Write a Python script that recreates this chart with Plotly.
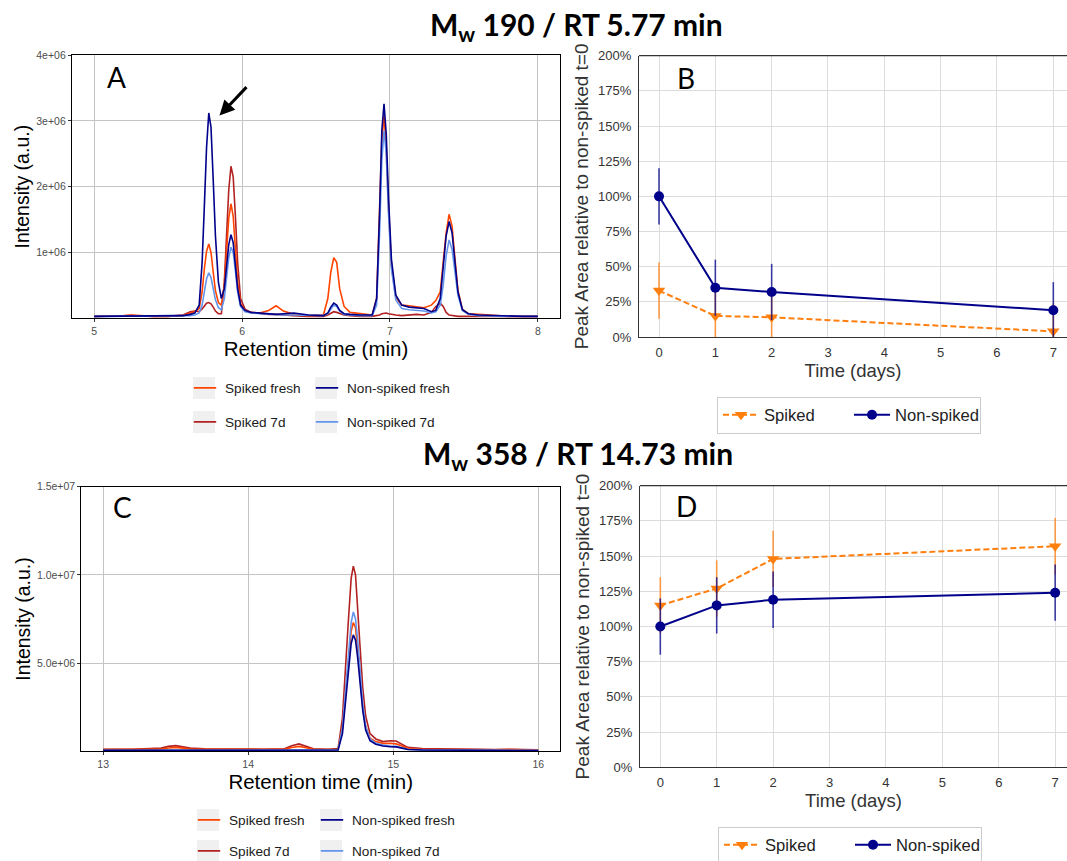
import plotly.graph_objects as go

W, H = 1067, 861

# ---------------- Panel A : chromatogram, Mw 190 (intensity in 1e6) ----------------
rt_a = [5.00, 5.10, 5.20, 5.25, 5.30, 5.40, 5.50, 5.60, 5.65, 5.68, 5.71, 5.73, 5.745, 5.76,
        5.775, 5.79, 5.805, 5.82, 5.84, 5.86, 5.88, 5.895, 5.91, 5.925, 5.94, 5.955, 5.97,
        5.99, 6.02, 6.06, 6.12, 6.18, 6.23, 6.28, 6.35, 6.45, 6.55, 6.58, 6.60, 6.62, 6.64,
        6.66, 6.69, 6.73, 6.80, 6.88, 6.91, 6.93, 6.945, 6.96, 6.975, 6.99, 7.01, 7.04, 7.08,
        7.13, 7.18, 7.23, 7.28, 7.31, 7.34, 7.36, 7.38, 7.40, 7.42, 7.44, 7.46, 7.49, 7.53,
        7.60, 7.70, 7.80, 7.90, 8.00]
a_nonspiked_fresh = [.03, .03, .03, .035, .03, .03, .03, .04, .06, .08, .20, .85, 1.70, 2.60,
                     3.12, 2.90, 2.10, 1.25, .55, .30, .45, .80, 1.12, 1.27, 1.15, .80, .45,
                     .20, .12, .09, .08, .07, .06, .07, .08, .05, .04, .08, .17, .23, .20,
                     .12, .07, .06, .05, .05, .30, 1.60, 2.85, 3.26, 2.80, 1.85, .90, .35, .20,
                     .17, .16, .15, .10, .12, .30, .75, 1.25, 1.47, 1.30, .85, .40, .13, .07,
                     .05, .04, .04, .03, .03]
a_spiked_fresh = [.03, .03, .04, .05, .04, .03, .03, .04, .08, .10, .15, .40, .75, 1.02,
                  1.13, 1.00, .70, .42, .24, .20, .50, 1.05, 1.52, 1.74, 1.55, 1.05, .55,
                  .22, .12, .09, .08, .12, .19, .11, .06, .04, .05, .30, .70, .92, .85,
                  .45, .18, .09, .07, .05, .30, 1.50, 2.70, 3.08, 2.60, 1.70, .80, .32, .20,
                  .19, .18, .16, .20, .27, .40, .80, 1.30, 1.58, 1.40, .90, .42, .14, .07,
                  .06, .04, .03, .03, .03]
a_nonspiked_7d = [.03, .03, .03, .03, .03, .03, .03, .03, .04, .05, .08, .20, .42, .60,
                  .69, .62, .45, .28, .16, .13, .30, .62, .92, 1.08, 1.00, .72, .40,
                  .18, .10, .08, .07, .06, .05, .05, .05, .04, .04, .07, .14, .20, .18,
                  .11, .06, .05, .04, .04, .20, 1.30, 2.40, 2.85, 2.50, 1.60, .75, .28, .15,
                  .13, .12, .11, .08, .10, .20, .50, .95, 1.19, 1.05, .70, .35, .12, .06,
                  .04, .03, .03, .03, .03]
a_spiked_7d = [.03, .03, .035, .045, .035, .03, .03, .05, .10, .11, .10, .14, .19, .23,
               .24, .22, .17, .11, .07, .07, .55, 1.25, 1.95, 2.31, 2.15, 1.55, .85,
               .30, .14, .09, .07, .06, .06, .05, .04, .03, .03, .05, .08, .10, .09,
               .07, .05, .04, .03, .03, .04, .05, .07, .08, .08, .07, .06, .05, .04,
               .05, .06, .05, .09, .18, .23, .18, .09, .05, .04, .04, .03, .03, .03,
               .03, .03, .03, .03, .03]

# ---------------- Panel C : chromatogram, Mw 358 (intensity in 1e6) ----------------
rt_c = [13.0, 13.2, 13.4, 13.45, 13.5, 13.55, 13.6, 13.7, 13.9, 14.1, 14.25, 14.3, 14.35,
        14.4, 14.45, 14.55, 14.62, 14.65, 14.67, 14.69, 14.71, 14.725, 14.74, 14.755, 14.77,
        14.79, 14.81, 14.84, 14.88, 14.93, 14.98, 15.02, 15.06, 15.1, 15.2, 15.35, 15.5,
        15.7, 15.8, 15.9, 16.0]
c_spiked_7d = [.12, .12, .18, .28, .32, .26, .18, .14, .12, .12, .14, .32, .42, .30, .14,
               .12, .15, 1.9, 4.3, 7.3, 9.8, 10.5, 10.0, 8.3, 6.1, 3.6, 2.0, 1.0, .70, .55,
               .60, .58, .40, .22, .15, .13, .12, .10, .12, .09, .08]
c_spiked_fresh = [.10, .10, .13, .19, .22, .18, .13, .11, .10, .10, .11, .22, .28, .20, .11,
                  .10, .12, 1.3, 3.0, 5.0, 6.8, 7.3, 7.0, 5.8, 4.3, 2.5, 1.4, .75, .55, .45,
                  .45, .42, .30, .17, .12, .10, .10, .09, .10, .08, .07]
c_nonspiked_7d = [.06, .06, .06, .07, .08, .07, .06, .06, .06, .06, .06, .08, .10, .08, .06,
                  .06, .08, 1.3, 3.2, 5.4, 7.3, 7.9, 7.5, 6.3, 4.6, 2.7, 1.4, .70, .45, .35,
                  .30, .28, .20, .12, .08, .07, .06, .06, .08, .06, .05]
c_nonspiked_fresh = [.05, .05, .05, .06, .07, .06, .05, .05, .05, .05, .05, .07, .09, .07, .05,
                     .05, .07, 1.0, 2.6, 4.5, 6.1, 6.6, 6.3, 5.3, 3.9, 2.3, 1.2, .60, .40, .30,
                     .26, .25, .18, .10, .07, .06, .05, .05, .07, .05, .04]

# ---------------- Panels B and D : peak area vs time (%) ----------------
days = [0, 1, 2, 7]
day_ticks = [0, 1, 2, 3, 4, 5, 6, 7]
b_spiked = [33, 15, 14, 4]
b_spiked_err = [20, 20, 18, 20]
b_nonspiked = [100, 35, 32, 19]
b_nonspiked_err = [20, 20, 20, 20]
d_spiked = [115, 127, 148, 157]
d_spiked_err = [20, 20, 20, 20]
d_nonspiked = [100, 115, 119, 124]
d_nonspiked_err = [20, 20, 20, 20]
pct_ticks = [0, 25, 50, 75, 100, 125, 150, 175, 200]
pct_labels = ["0%", "25%", "50%", "75%", "100%", "125%", "150%", "175%", "200%"]

chrom_colors = {"Spiked fresh": "#FF4500", "Spiked 7d": "#B22222",
                "Non-spiked fresh": "#00008B", "Non-spiked 7d": "#6495ED"}
ORANGE = "#FF7F0E"
NAVY = "#00008B"
SANS = "Liberation Sans, Arial, sans-serif"
CAL = "Lato, Open Sans, sans-serif"

fig = go.Figure()

chrom = {
    ("x", "y"): (rt_a, {"Spiked 7d": a_spiked_7d, "Spiked fresh": a_spiked_fresh,
                        "Non-spiked 7d": a_nonspiked_7d, "Non-spiked fresh": a_nonspiked_fresh}),
    ("x3", "y3"): (rt_c, {"Spiked 7d": c_spiked_7d, "Spiked fresh": c_spiked_fresh,
                          "Non-spiked 7d": c_nonspiked_7d, "Non-spiked fresh": c_nonspiked_fresh}),
}
for (xa, ya), (rt, tr) in chrom.items():
    for name in ["Spiked 7d", "Spiked fresh", "Non-spiked 7d", "Non-spiked fresh"]:
        fig.add_trace(go.Scatter(x=rt, y=tr[name], mode="lines", name=name,
                                 line=dict(color=chrom_colors[name], width=1.6),
                                 xaxis=xa, yaxis=ya, showlegend=False))


def px_x(p):
    return p / W


def px_y(p):
    return 1 - p / H


# one legend per key (ggplot-like 2x2 key grid); (name, legend id, axes, key centre x, key centre y)
legend_keys = [
    ("Spiked fresh", "legend", ("x", "y"), 204, 388),
    ("Non-spiked fresh", "legend2", ("x", "y"), 326, 388),
    ("Spiked 7d", "legend3", ("x", "y"), 204, 422),
    ("Non-spiked 7d", "legend4", ("x", "y"), 326, 422),
    ("Spiked fresh", "legend5", ("x3", "y3"), 208, 820),
    ("Non-spiked fresh", "legend6", ("x3", "y3"), 331, 820),
    ("Spiked 7d", "legend7", ("x3", "y3"), 208, 851),
    ("Non-spiked 7d", "legend8", ("x3", "y3"), 331, 851),
]
layout_legends = {}
for name, leg, (xa, ya), kx, ky in legend_keys:
    fig.add_trace(go.Scatter(x=[None], y=[None], mode="markers", name=name,
                             marker=dict(symbol="line-ew-open", size=16,
                                         color=chrom_colors[name],
                                         line=dict(width=1.6, color=chrom_colors[name])),
                             xaxis=xa, yaxis=ya, legend=leg, showlegend=True))
    layout_legends[leg] = dict(orientation="h", xanchor="left", yanchor="middle",
                               bgcolor="rgba(0,0,0,0)", x=px_x(kx - 19), y=px_y(ky),
                               font=dict(family=SANS, size=13.6, color="#1a1a1a"))
    fig.add_shape(type="rect", xref="paper", yref="paper", x0=px_x(kx - 11), x1=px_x(kx + 11),
                  y0=px_y(ky + 11), y1=px_y(ky - 11), fillcolor="#f0f0f0", line_width=0,
                  layer="below")

# time-course traces
for (xa, ya, leg), (sp, spe, ns, nse) in zip(
        [("x2", "y2", "legend9"), ("x4", "y4", "legend10")],
        [(b_spiked, b_spiked_err, b_nonspiked, b_nonspiked_err),
         (d_spiked, d_spiked_err, d_nonspiked, d_nonspiked_err)]):
    fig.add_trace(go.Scatter(x=days, y=sp, mode="lines+markers", name="Spiked",
                             line=dict(color=ORANGE, width=2, dash="6px,3px"),
                             marker=dict(symbol="triangle-down", size=11, color=ORANGE),
                             error_y=dict(type="data", array=spe, visible=True, width=0,
                                          thickness=1.6, color="rgba(255,127,14,0.75)"),
                             xaxis=xa, yaxis=ya, legend=leg))
    fig.add_trace(go.Scatter(x=days, y=ns, mode="lines+markers", name="Non-spiked",
                             line=dict(color=NAVY, width=2),
                             marker=dict(symbol="circle", size=10, color=NAVY),
                             error_y=dict(type="data", array=nse, visible=True, width=0,
                                          thickness=1.6, color="rgba(0,0,139,0.75)"),
                             xaxis=xa, yaxis=ya, legend=leg))

chrom_axis = dict(showline=True, mirror=True, linecolor="black", linewidth=1.3,
                  showgrid=True, gridcolor="#c4c4c4", gridwidth=0.9, zeroline=False,
                  ticks="outside", ticklen=3, tickcolor="#333333", tickwidth=1,
                  tickfont=dict(family=SANS, size=10.5, color="#4d4d4d"), automargin=False)
time_axis = dict(showline=True, linecolor="#333333", linewidth=1.3, showgrid=True,
                 gridcolor="#dcdcdc", gridwidth=1.4, zeroline=False, ticks="",
                 tickfont=dict(family=SANS, size=13, color="#333333"), automargin=False)

layout = dict(
    width=W, height=H, autosize=False, margin=dict(l=0, r=0, t=0, b=0, autoexpand=False),
    paper_bgcolor="white", plot_bgcolor="white", showlegend=True,
    font=dict(family=SANS, color="black"),
    xaxis=dict(chrom_axis, domain=[px_x(72), px_x(560)], range=[4.85, 8.15],
               tickvals=[5, 6, 7, 8], anchor="y",
               title=dict(text="Retention time (min)", font=dict(family=SANS, size=20.5), standoff=1)),
    yaxis=dict(chrom_axis, domain=[px_y(318.3), px_y(55)], range=[0, 4], anchor="x",
               tickvals=[1, 2, 3, 4], ticktext=["1e+06", "2e+06", "3e+06", "4e+06"],
               title=dict(text="Intensity (a.u.)", font=dict(family=SANS, size=19.5), standoff=1)),
    xaxis3=dict(chrom_axis, domain=[px_x(81.4), px_x(560)], range=[12.85, 16.15],
                tickvals=[13, 14, 15, 16], anchor="y3",
                title=dict(text="Retention time (min)", font=dict(family=SANS, size=20.5), standoff=1)),
    yaxis3=dict(chrom_axis, domain=[px_y(751.3), px_y(486.7)], range=[0, 15], anchor="x3",
                tickvals=[5, 10, 15], ticktext=["5.0e+06", "1.0e+07", "1.5e+07"],
                title=dict(text="Intensity (a.u.)", font=dict(family=SANS, size=19.5), standoff=1)),
    xaxis2=dict(time_axis, domain=[px_x(639), 1], range=[-0.355, 7.243], tickvals=day_ticks,
                anchor="y2", ticklabelstandoff=3,
                title=dict(text="Time (days)", font=dict(family=SANS, size=18.5, color="#333333"),
                           standoff=2)),
    yaxis2=dict(time_axis, domain=[px_y(337), px_y(55.7)], range=[0, 200], anchor="x2",
                tickvals=pct_ticks, ticktext=pct_labels, ticklabelstandoff=4,
                title=dict(text="Peak Area relative to non-spiked t=0",
                           font=dict(family=SANS, size=19, color="#333333"), standoff=4)),
    xaxis4=dict(time_axis, domain=[px_x(640), 1], range=[-0.36, 7.21], tickvals=day_ticks,
                anchor="y4", ticklabelstandoff=3,
                title=dict(text="Time (days)", font=dict(family=SANS, size=18.5, color="#333333"),
                           standoff=2)),
    yaxis4=dict(time_axis, domain=[px_y(767.3), px_y(485.7)], range=[0, 200], anchor="x4",
                tickvals=pct_ticks, ticktext=pct_labels, ticklabelstandoff=4,
                title=dict(text="Peak Area relative to non-spiked t=0",
                           font=dict(family=SANS, size=19, color="#333333"), standoff=4)),
)
layout.update(layout_legends)
time_leg = dict(orientation="h", xanchor="left", yanchor="middle", bgcolor="white",
                bordercolor="#cccccc", borderwidth=1, itemwidth=36, entrywidth=80,
                entrywidthmode="pixels", font=dict(family=SANS, size=16.6, color="#222222"))
layout["legend9"] = dict(time_leg, x=px_x(717), y=px_y(415))
layout["legend10"] = dict(time_leg, x=px_x(718), y=px_y(845))

fig.update_layout(**layout)

# top spines for B and D
for xa, ya in [("x2", "y2"), ("x4", "y4")]:
    fig.add_shape(type="line", xref=f"{xa} domain", yref=f"{ya} domain", x0=0, x1=1, y0=1, y1=1,
                  line=dict(color="#333333", width=1.3))

# titles
fig.add_annotation(text="<b>M<sub>w</sub> 190 / RT 5.77 min</b>", xref="paper", yref="paper",
                   x=px_x(576), y=px_y(26), xanchor="center", yanchor="middle", showarrow=False,
                   font=dict(family=CAL, size=30, color="black"))
fig.add_annotation(text="<b>M<sub>w</sub> 358 / RT 14.73 min</b>", xref="paper", yref="paper",
                   x=px_x(577.5), y=px_y(455), xanchor="center", yanchor="middle", showarrow=False,
                   font=dict(family=CAL, size=30, color="black"))

# panel letters
for letter, cx, cy in [("A", 116.5, 77), ("B", 685.5, 78), ("C", 122, 506.5), ("D", 686.5, 506)]:
    fig.add_annotation(text=letter, xref="paper", yref="paper", x=px_x(cx), y=px_y(cy),
                       xanchor="center", yanchor="middle", showarrow=False,
                       font=dict(family=CAL, size=28, color="black"))

# arrow in panel A
fig.add_annotation(text=" ", xref="paper", yref="paper", x=px_x(219.5), y=px_y(115.5),
                   ax=30, ay=-31.5, showarrow=True, arrowhead=2, arrowsize=1, arrowwidth=3,
                   arrowcolor="black")

fig.write_html("out.html")
